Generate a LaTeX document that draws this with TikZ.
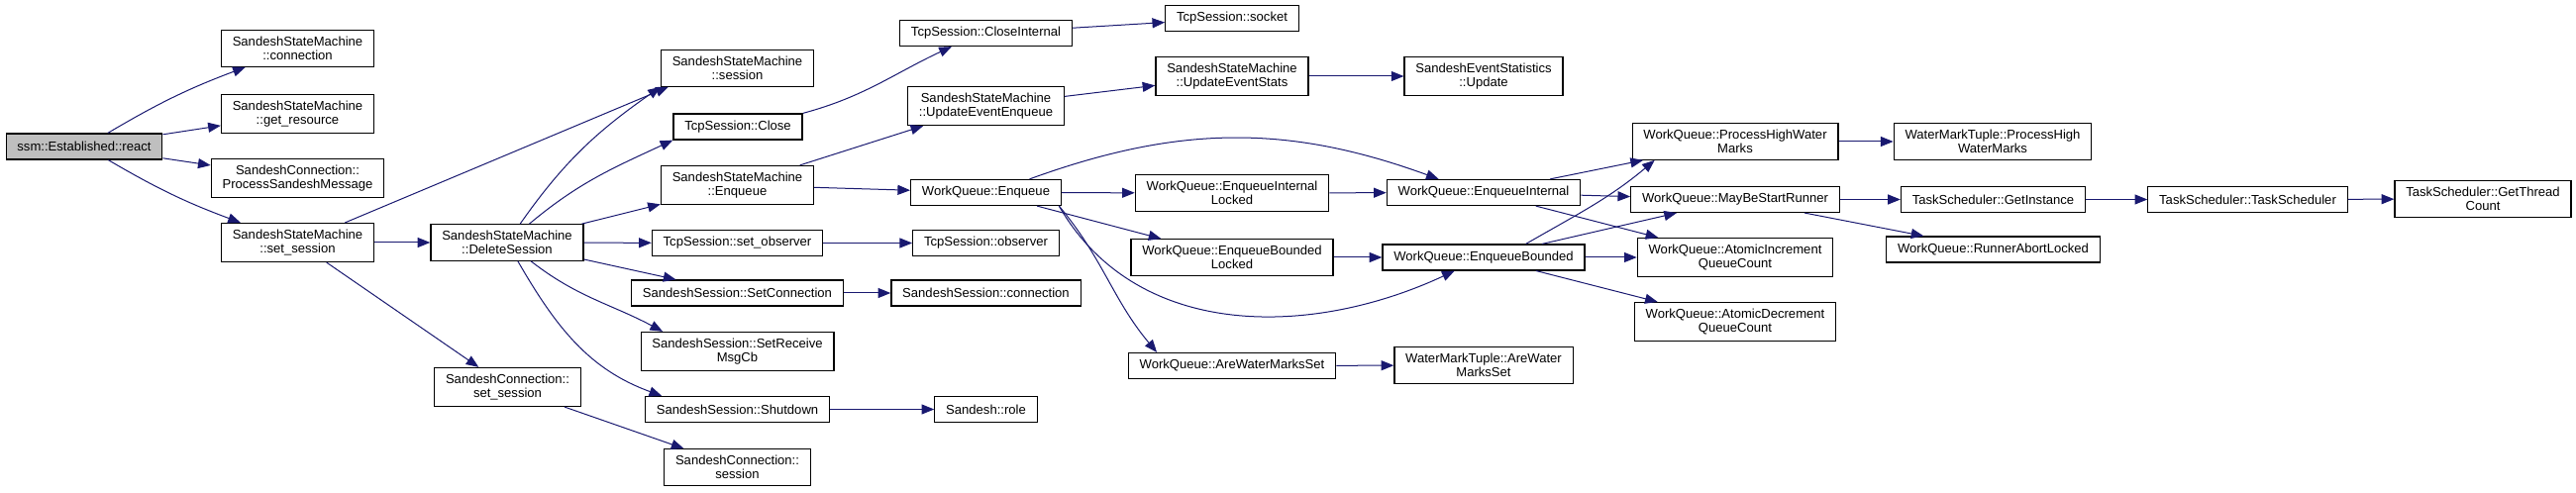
\documentclass[tikz,border=0pt]{standalone}
\usepackage{fontspec}
\setmainfont{Liberation Sans}
\usetikzlibrary{arrows.meta}
\definecolor{cgedge}{RGB}{25,25,112}
\definecolor{cgroot}{RGB}{191,191,191}

\begin{document}
\begin{tikzpicture}[x=0.75pt,y=0.75pt,>={Triangle[length=9.5pt,width=7.5pt]},font=\fontsize{9.8}{10.4}\selectfont,
    every node/.style={align=center},
    fn/.style={draw,line width=0.9pt,fill=white,inner xsep=8.5pt,inner ysep=4.9pt,minimum height=19.5pt},
    call/.style={->,color=cgedge,line width=0.75pt}]
    \useasboundingbox (0,0) rectangle (2601,-498);
    \node[fn,fill=cgroot] (react) at (85,-148) {ssm::Established::react};
    \node[fn] (smconn) at (300.5,-49) {SandeshStateMachine\\::connection};
    \node[fn] (smres) at (300.5,-115) {SandeshStateMachine\\::get\_resource};
    \node[fn] (scmsg) at (300.5,-180) {SandeshConnection::\\ProcessSandeshMessage};
    \node[fn] (smsetsess) at (300.5,-245) {SandeshStateMachine\\::set\_session};
    \node[fn] (smdelsess) at (512,-245) {SandeshStateMachine\\::DeleteSession};
    \node[fn] (scsetsess) at (512.5,-391) {SandeshConnection::\\set\_session};
    \node[fn] (smsess) at (744.5,-69) {SandeshStateMachine\\::session};
    \node[fn] (tcpclose) at (745,-128) {TcpSession::Close};
    \node[fn] (smenq) at (744.5,-187) {SandeshStateMachine\\::Enqueue};
    \node[fn] (tcpsetobs) at (744.5,-245.5) {TcpSession::set\_observer};
    \node[fn] (sssetconn) at (744.5,-296) {SandeshSession::SetConnection};
    \node[fn] (sssetrecv) at (744.5,-355) {SandeshSession::SetReceive\\MsgCb};
    \node[fn] (ssshut) at (744.5,-413.5) {SandeshSession::Shutdown};
    \node[fn] (scsess) at (744.5,-472) {SandeshConnection::\\session};
    \node[fn] (tcpcloseint) at (995.5,-33.5) {TcpSession::CloseInternal};
    \node[fn] (smupdenq) at (995.5,-107) {SandeshStateMachine\\::UpdateEventEnqueue};
    \node[fn] (wqenq) at (995.5,-194.5) {WorkQueue::Enqueue};
    \node[fn] (tcpobs) at (995.5,-245.5) {TcpSession::observer};
    \node[fn] (ssconn) at (995.5,-296) {SandeshSession::connection};
    \node[fn] (role) at (995.5,-413.5) {Sandesh::role};
    \node[fn] (tcpsock) at (1244,-18.5) {TcpSession::socket};
    \node[fn] (smupdstats) at (1244,-77) {SandeshStateMachine\\::UpdateEventStats};
    \node[fn] (wqintlock) at (1244,-195) {WorkQueue::EnqueueInternal\\Locked};
    \node[fn] (wqbndlock) at (1244,-260) {WorkQueue::EnqueueBounded\\Locked};
    \node[fn] (wqarewm) at (1244,-369.5) {WorkQueue::AreWaterMarksSet};
    \node[fn] (sesupd) at (1498,-77) {SandeshEventStatistics\\::Update};
    \node[fn] (wqint) at (1498,-194.5) {WorkQueue::EnqueueInternal};
    \node[fn] (wqbnd) at (1498,-260) {WorkQueue::EnqueueBounded};
    \node[fn] (wmtarewm) at (1498,-369) {WaterMarkTuple::AreWater\\MarksSet};
    \node[fn] (wqhwm) at (1752,-143) {WorkQueue::ProcessHighWater\\Marks};
    \node[fn] (wqrunner) at (1752,-201.5) {WorkQueue::MayBeStartRunner};
    \node[fn] (wqinc) at (1752,-260) {WorkQueue::AtomicIncrement\\QueueCount};
    \node[fn] (wqdec) at (1752,-325) {WorkQueue::AtomicDecrement\\QueueCount};
    \node[fn] (wmthwm) at (2012,-143) {WaterMarkTuple::ProcessHigh\\WaterMarks};
    \node[fn] (tsinst) at (2012.5,-201.5) {TaskScheduler::GetInstance};
    \node[fn] (wqabort) at (2012.5,-252) {WorkQueue::RunnerAbortLocked};
    \node[fn] (tsctor) at (2269.5,-201.5) {TaskScheduler::TaskScheduler};
    \node[fn] (tsthreads) at (2507,-201) {TaskScheduler::GetThread\\Count};
    \draw[call] (react) to[bend left=5] (smconn); \draw[call] (react)--(smres); \draw[call] (react)--(scmsg); \draw[call] (react) to[bend right=5] (smsetsess);
    \draw[call] (smsetsess)--([xshift=6pt]smsess.south west); \draw[call] (smsetsess)--(smdelsess); \draw[call] (smsetsess)--(scsetsess);
    \draw[call] (smdelsess) to[out=55,in=215] (smsess.south west); \draw[call] (smdelsess) to[out=40,in=205] (tcpclose.south west);
    \draw[call] (smdelsess)--(smenq); \draw[call] (smdelsess)--(tcpsetobs); \draw[call] (smdelsess)--(sssetconn);
    \draw[call] (smdelsess) to[out=-38,in=152] ([xshift=17pt]sssetrecv.north west); \draw[call] (smdelsess) to[out=-60,in=160] ([xshift=13pt]ssshut.north west);
    \draw[call] (scsetsess)--(scsess);
    \draw[call] (tcpclose.north east) to[out=15,in=205] ([xshift=-26pt]tcpcloseint.south);
    \draw[call] (smenq)--(smupdenq); \draw[call] (smenq)--(wqenq);
    \draw[call] (tcpsetobs)--(tcpobs); \draw[call] (sssetconn)--(ssconn); \draw[call] (ssshut)--(role);
    \draw[call] (tcpcloseint)--(tcpsock); \draw[call] (smupdenq)--(smupdstats); \draw[call] (smupdstats)--(sesupd);
    \draw[call] ([xshift=33pt]wqenq.north) to[out=20,in=160] ([xshift=-34pt]wqint.north);
    \draw[call] (wqenq)--(wqintlock); \draw[call] (wqenq)--(wqbndlock);
    \draw[call] ([xshift=-2pt]wqenq.south east) to[out=-60,in=-155] ([xshift=-22pt]wqbnd.south);
    \draw[call] ([xshift=-2pt]wqenq.south east) to[out=-50,in=130] ([xshift=22pt]wqarewm.north west);
    \draw[call] (wqintlock)--(wqint); \draw[call] (wqbndlock)--(wqbnd); \draw[call] (wqarewm)--(wmtarewm);
    \draw[call] (wqint)--(wqhwm); \draw[call] (wqint)--(wqrunner); \draw[call] (wqint)--(wqinc);
    \draw[call] ([xshift=32pt]wqbnd.north) to[out=30,in=220] ([xshift=-61pt]wqhwm.south); \draw[call] (wqbnd)--(wqrunner); \draw[call] (wqbnd)--(wqinc); \draw[call] (wqbnd)--(wqdec);
    \draw[call] (wqhwm)--(wmthwm); \draw[call] (wqrunner)--(tsinst); \draw[call] (wqrunner)--(wqabort);
    \draw[call] (tsinst)--(tsctor); \draw[call] (tsctor)--(tsthreads);
\end{tikzpicture}
\end{document}
